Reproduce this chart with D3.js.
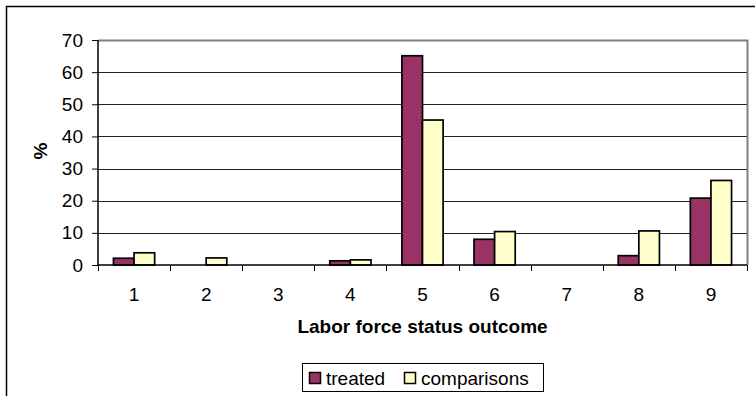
<!DOCTYPE html>
<html>
<head>
<meta charset="utf-8">
<script src="https://cdn.jsdelivr.net/npm/d3@7"></script>
<style>
  body { margin: 0; background: #fff; }
  text { font-family: "Liberation Sans", Arial, sans-serif; }
</style>
</head>
<body>
<div id="chart"></div>
<script>
// Chart data
const categories = ["1", "2", "3", "4", "5", "6", "7", "8", "9"];
const treated = [2.1, 0, 0, 1.3, 65.1, 8.0, 0, 2.9, 20.8];
const comparisons = [3.8, 2.2, 0, 1.6, 45.1, 10.4, 0, 10.6, 26.3];
const yTicks = [0, 10, 20, 30, 40, 50, 60, 70];
const seriesNames = ["treated", "comparisons"];
const colors = ["#993366", "#ffffcc"];

const W = 755, H = 396;
const plot = { left: 98, top: 40, right: 747, bottom: 265 };
const fontSize = 19;

const svg = d3.select("#chart")
    .append("svg")
    .attr("width", W)
    .attr("height", H);

// Outer chart border
svg.append("rect")
    .attr("x", 6.5).attr("y", 6.5)
    .attr("width", W + 10).attr("height", H + 10)
    .attr("fill", "none")
    .attr("stroke", "#000")
    .attr("stroke-width", 1.5);

// Scales
const x = d3.scaleBand()
    .domain(categories)
    .range([plot.left, plot.right]);

const y = d3.scaleLinear()
    .domain([0, 70])
    .range([plot.bottom, plot.top]);

const barW = x.bandwidth() / 3.5;
const groupOffset = (x.bandwidth() - 2 * barW) / 2;

// Gridlines
svg.append("g")
    .selectAll("line")
    .data(yTicks.filter(d => d > 0 && d < 70))
    .enter()
    .append("line")
    .attr("x1", plot.left).attr("x2", plot.right)
    .attr("y1", d => Math.round(y(d)) + 0.5)
    .attr("y2", d => Math.round(y(d)) + 0.5)
    .attr("stroke", "#222")
    .attr("stroke-width", 1);

// Plot area border (top and right, gray)
svg.append("path")
    .attr("d", `M${plot.left},${Math.round(y(70)) + 0.5}H${plot.right + 0.5}V${plot.bottom}`)
    .attr("fill", "none")
    .attr("stroke", "#808080")
    .attr("stroke-width", 2);

// Bars
const series = [treated, comparisons];
series.forEach(function (vals, si) {
    svg.append("g")
        .selectAll("rect")
        .data(vals.map((v, i) => ({ cat: categories[i], v: v })).filter(d => d.v > 0))
        .enter()
        .append("rect")
        .attr("x", d => x(d.cat) + groupOffset + si * barW)
        .attr("y", d => y(d.v))
        .attr("width", barW)
        .attr("height", d => y(0) - y(d.v))
        .attr("fill", colors[si])
        .attr("stroke", "#000")
        .attr("stroke-width", 1.7);
});

// Y axis
const yAxis = svg.append("g")
    .attr("transform", `translate(${plot.left},0)`)
    .call(d3.axisLeft(y).tickValues(yTicks).tickSize(6).tickPadding(9));
yAxis.select(".domain").attr("stroke", "#000").attr("stroke-width", 1.5)
    .attr("d", `M0,${plot.top}V${plot.bottom}`);
yAxis.selectAll("text").attr("font-size", fontSize).attr("fill", "#000")
    .style("font-family", "Liberation Sans, Arial, sans-serif");
yAxis.selectAll("line").attr("stroke", "#000");

// X axis
const xAxis = svg.append("g")
    .attr("transform", `translate(0,${plot.bottom})`)
    .call(d3.axisBottom(x).tickSize(0));
xAxis.select(".domain").attr("stroke", "#000").attr("stroke-width", 1.5)
    .attr("d", `M${plot.left},0H${plot.right}`);
xAxis.selectAll("text").attr("font-size", fontSize).attr("fill", "#000")
    .attr("y", 36).attr("dy", 0)
    .style("font-family", "Liberation Sans, Arial, sans-serif");

// X tick marks between categories
svg.append("g")
    .selectAll("line")
    .data(categories.concat(["end"]))
    .enter()
    .append("line")
    .attr("x1", (d, i) => Math.round(plot.left + i * x.bandwidth()) + 0.5)
    .attr("x2", (d, i) => Math.round(plot.left + i * x.bandwidth()) + 0.5)
    .attr("y1", plot.bottom)
    .attr("y2", plot.bottom + 6)
    .attr("stroke", "#000");

// Axis titles
svg.append("text")
    .attr("x", (plot.left + plot.right) / 2)
    .attr("y", 333)
    .attr("text-anchor", "middle")
    .attr("font-size", fontSize)
    .attr("font-weight", "bold")
    .text("Labor force status outcome");

svg.append("text")
    .attr("transform", "translate(47,151) rotate(-90)")
    .attr("text-anchor", "middle")
    .attr("font-size", fontSize)
    .attr("font-weight", "bold")
    .text("%");

// Legend
const legend = svg.append("g");
legend.append("rect")
    .attr("x", 302.5).attr("y", 363.5)
    .attr("width", 241).attr("height", 28)
    .attr("fill", "#fff")
    .attr("stroke", "#000");

const legendX = [309, 404];
seriesNames.forEach(function (name, i) {
    legend.append("rect")
        .attr("x", legendX[i] + 0.5).attr("y", 372.5)
        .attr("width", 11).attr("height", 11)
        .attr("fill", colors[i])
        .attr("stroke", "#000")
        .attr("stroke-width", 1.5);
    legend.append("text")
        .attr("x", legendX[i] + 17)
        .attr("y", 385)
        .attr("font-size", fontSize)
        .text(name);
});
</script>
</body>
</html>
